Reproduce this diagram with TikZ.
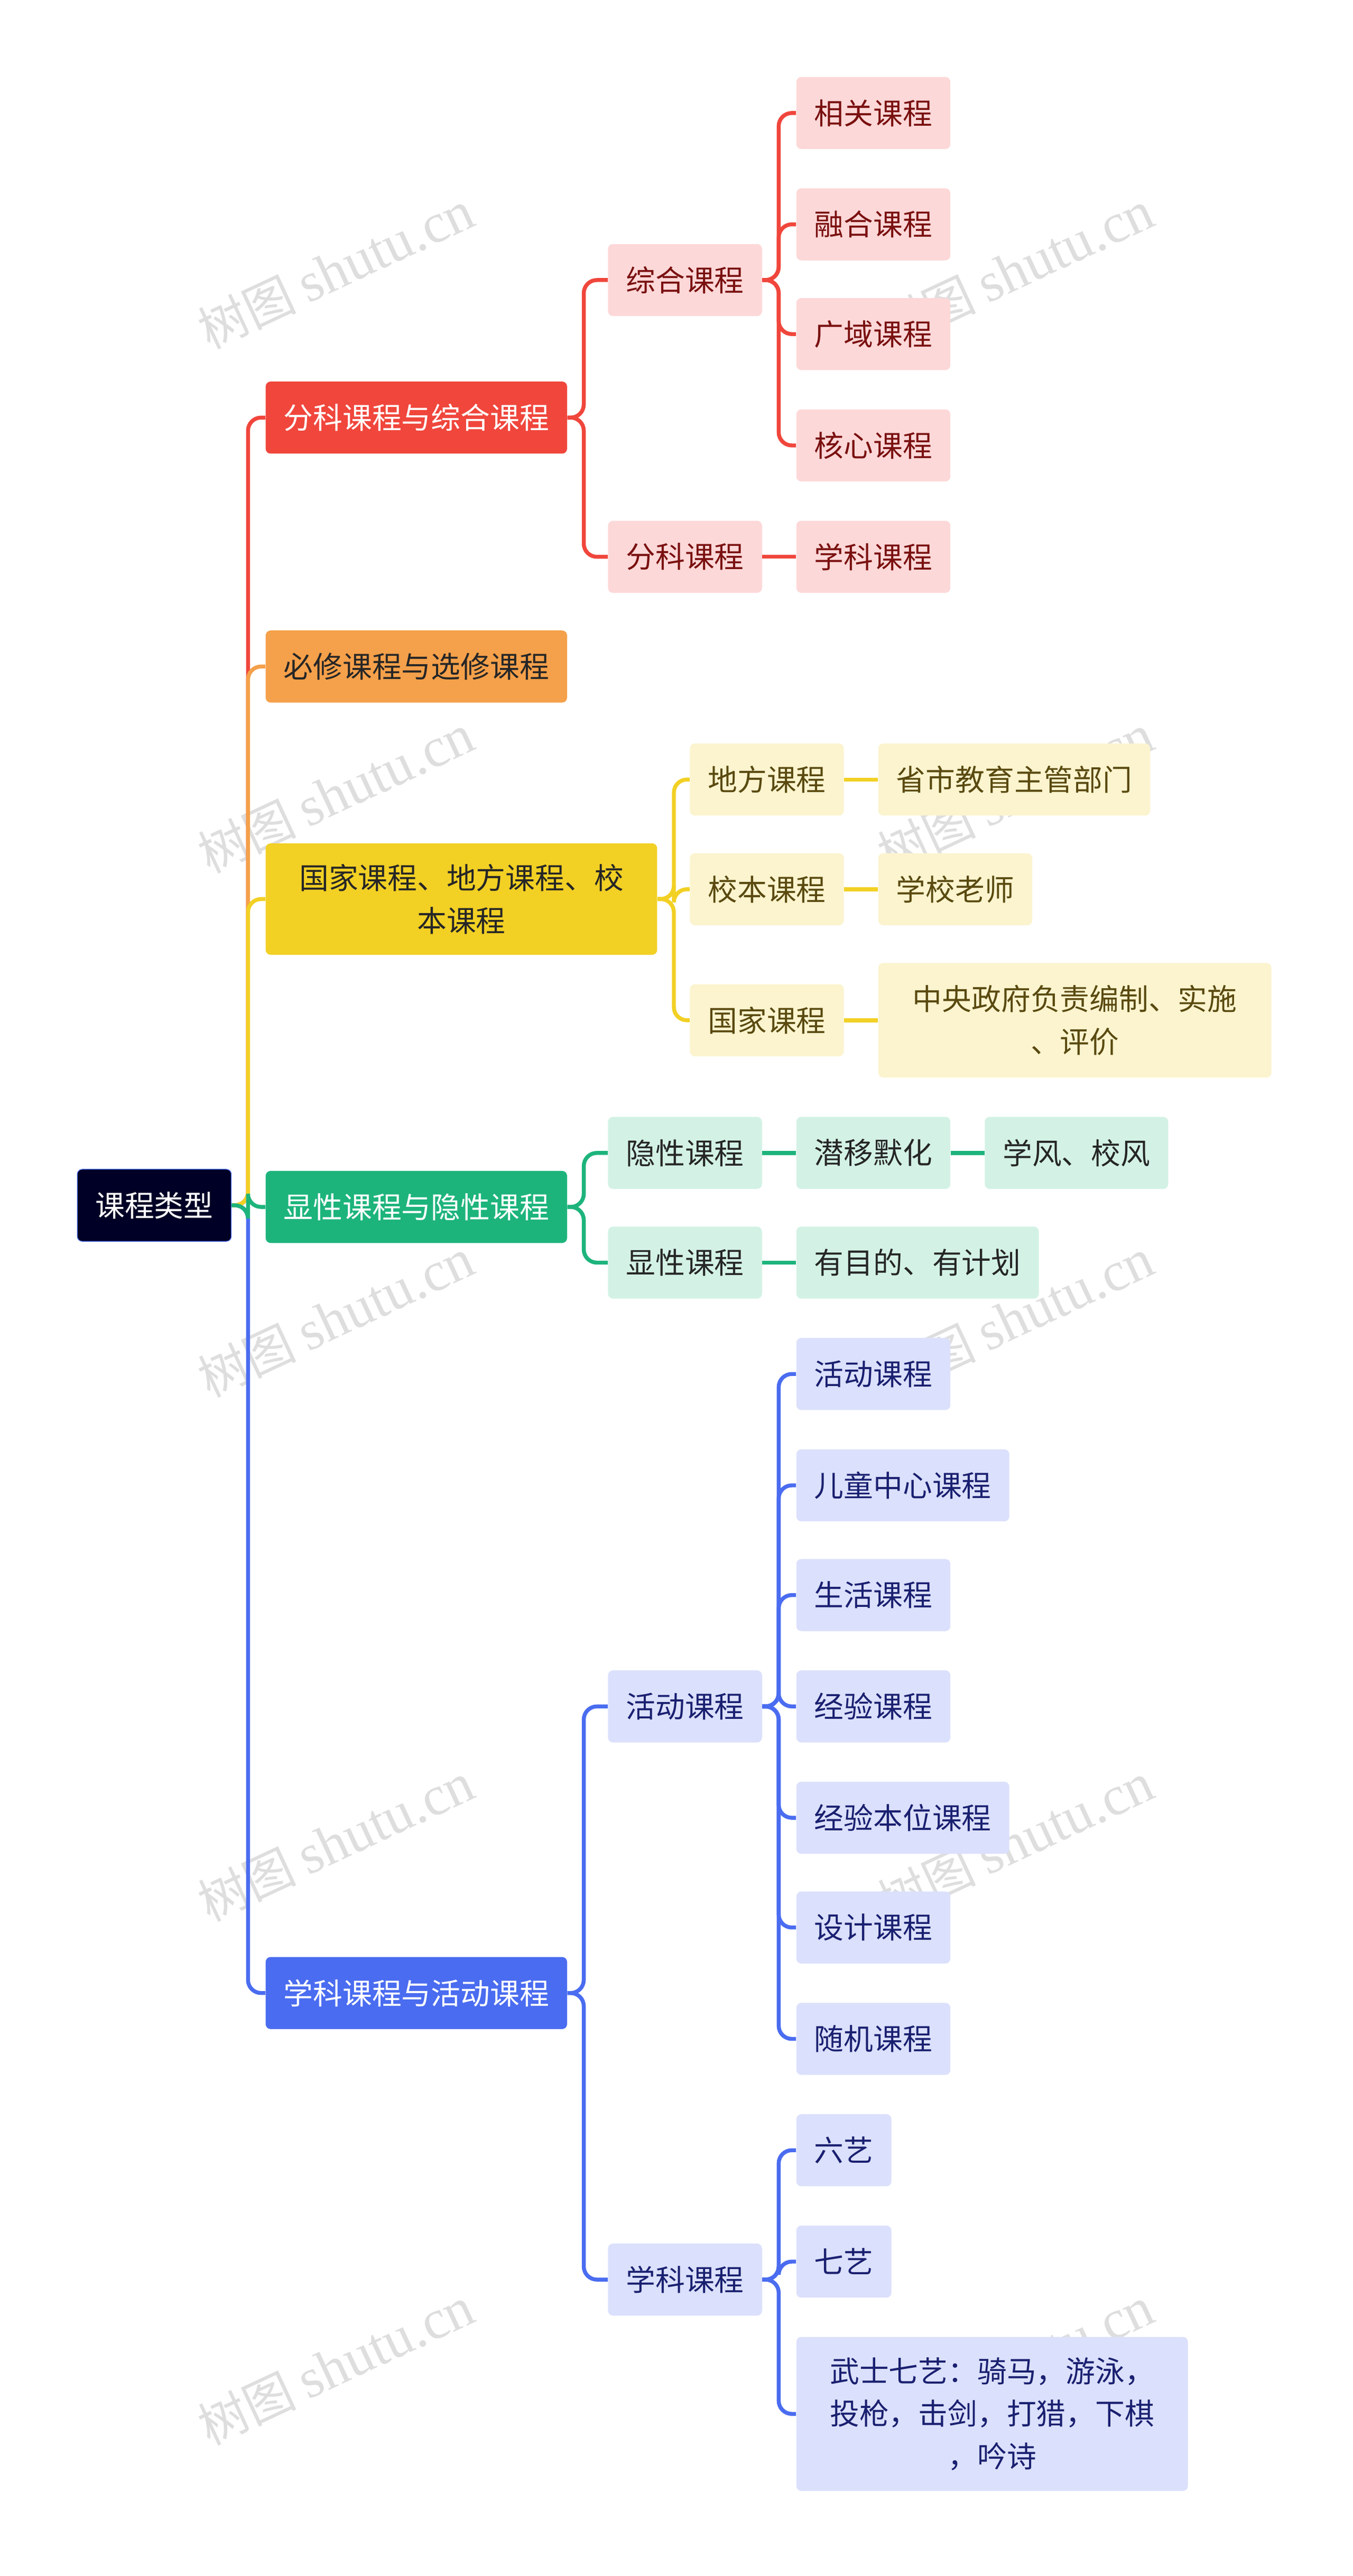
\documentclass[tikz,border=0pt]{standalone}
\usepackage{fontspec}
\setmainfont{Noto Sans CJK SC}
\newfontfamily\wmfont{Liberation Serif}
\newfontfamily\wmcjk{Noto Sans CJK SC}
\begin{document}
\begin{tikzpicture}[x=1pt,y=-1pt,
 box/.style={anchor=west,rounded corners=3,minimum height=44,inner xsep=11,inner ysep=4,font=\fontsize{18}{26}\selectfont,align=center},
 R1/.style={box,fill=cr,text=white},
 R2/.style={box,fill=cr2,text=cr3},
 O1/.style={box,fill=co,text=black!85},
 Y1/.style={box,fill=cy,text=black!85},
 Y2/.style={box,fill=cy2,text=cy3},
 G1/.style={box,fill=cg,text=white},
 G2/.style={box,fill=cg2,text=black!85},
 B1/.style={box,fill=cb,text=white},
 B2/.style={box,fill=cb2,text=cb3},
 ln/.style={line width=2.4,rounded corners=8},
 wm/.style={text=black!13,rotate=25}]
\definecolor{cr}{HTML}{F0463C}\definecolor{cr2}{HTML}{FDD8D8}\definecolor{cr3}{HTML}{7A1010}
\definecolor{co}{HTML}{F5A04A}
\definecolor{cy}{HTML}{F2D024}\definecolor{cy2}{HTML}{FBF4CF}\definecolor{cy3}{HTML}{5A4A10}
\definecolor{cg}{HTML}{1DB47C}\definecolor{cg2}{HTML}{D3F2E5}
\definecolor{cb}{HTML}{4A6CF0}\definecolor{cb2}{HTML}{DBE0FC}\definecolor{cb3}{HTML}{1A2070}
\useasboundingbox (0,0) rectangle (826,1573);
\foreach \x in {205,620}{\foreach \y in {165,485,805,1125,1445}{\node[wm] at (\x,\y) {\wmcjk\fontsize{30}{30}\selectfont 树图 \wmfont\fontsize{34}{34}\selectfont shutu.cn};}}
\node[box,fill=black!85!blue,draw=cb,text=white,minimum width=94,inner xsep=4] (root) at (47,736) {课程类型};
\node[R1] (a) at (162,255) {分科课程与综合课程};
\node[O1] (b) at (162,407) {必修课程与选修课程};
\node[Y1,minimum height=68,text width=217] (c) at (162,549) {国家课程、地方课程、校\\本课程};
\node[G1] (d) at (162,737) {显性课程与隐性课程};
\node[B1] (e) at (162,1217) {学科课程与活动课程};
\node[R2] (a1) at (371,171) {综合课程};
\node[R2] (a2) at (371,340) {分科课程};
\node[R2] (a11) at (486,69) {相关课程};
\node[R2] (a12) at (486,137) {融合课程};
\node[R2] (a13) at (486,204) {广域课程};
\node[R2] (a14) at (486,272) {核心课程};
\node[R2] (a21) at (486,340) {学科课程};
\node[Y2] (c1) at (421,476) {地方课程};
\node[Y2] (c2) at (421,543) {校本课程};
\node[Y2] (c3) at (421,623) {国家课程};
\node[Y2] (c11) at (536,476) {省市教育主管部门};
\node[Y2] (c21) at (536,543) {学校老师};
\node[Y2,minimum height=70,text width=218] (c31) at (536,623) {中央政府负责编制、实施\\、评价};
\node[G2] (d1) at (371,704) {隐性课程};
\node[G2] (d2) at (371,771) {显性课程};
\node[G2] (d11) at (486,704) {潜移默化};
\node[G2] (d111) at (601,704) {学风、校风};
\node[G2] (d21) at (486,771) {有目的、有计划};
\node[B2] (e1) at (371,1042) {活动课程};
\node[B2] (e2) at (371,1392) {学科课程};
\node[B2] (e11) at (486,839) {活动课程};
\node[B2] (e12) at (486,907) {儿童中心课程};
\node[B2] (e13) at (486,974) {生活课程};
\node[B2] (e14) at (486,1042) {经验课程};
\node[B2] (e15) at (486,1110) {经验本位课程};
\node[B2] (e16) at (486,1177) {设计课程};
\node[B2] (e17) at (486,1245) {随机课程};
\node[B2] (e21) at (486,1313) {六艺};
\node[B2] (e22) at (486,1381) {七艺};
\node[B2,minimum height=94,text width=217] (e23) at (486,1474) {武士七艺：骑马，游泳，\\投枪，击剑，打猎，下棋\\，吟诗};
\newcommand\ed[3]{\draw[ln,#1] (#2.east) -- ++(10,0) |- (#3.west);}
\ed{cb}{root}{e}\ed{cr}{root}{a}\ed{co}{root}{b}\ed{cy}{root}{c}\ed{cg}{root}{d}
\foreach \n in {a1,a2}{\ed{cr}{a}{\n}}
\foreach \n in {a11,a12,a13,a14}{\ed{cr}{a1}{\n}}
\draw[ln,cr] (a2)--(a21);
\foreach \n in {c1,c2,c3}{\ed{cy}{c}{\n}}
\draw[ln,cy] (c1)--(c11); \draw[ln,cy] (c2)--(c21); \draw[ln,cy] (c3)--(c31);
\foreach \n in {d1,d2}{\ed{cg}{d}{\n}}
\draw[ln,cg] (d1)--(d11); \draw[ln,cg] (d11)--(d111); \draw[ln,cg] (d2)--(d21);
\foreach \n in {e1,e2}{\ed{cb}{e}{\n}}
\foreach \n in {e11,e12,e13,e14,e15,e16,e17}{\ed{cb}{e1}{\n}}
\foreach \n in {e21,e22,e23}{\ed{cb}{e2}{\n}}
\end{tikzpicture}
\end{document}
